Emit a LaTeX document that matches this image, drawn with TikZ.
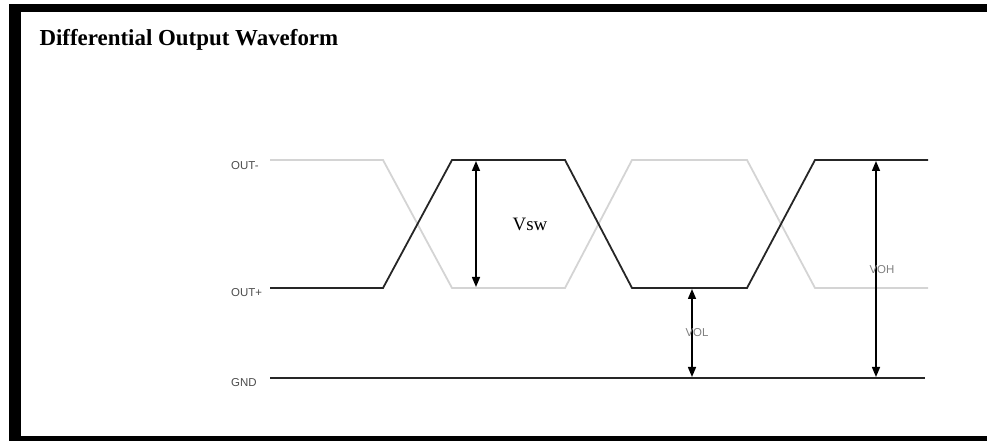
\documentclass[tikz,border=0pt]{standalone}
\usepackage{fontspec}
\setmainfont{Liberation Serif}
\newfontfamily\labelfont{Liberation Sans}
\usetikzlibrary{arrows.meta}

\begin{document}
\begin{tikzpicture}[x=1bp,y=-1bp,
	wave/.style={line width=1.8bp,black!85},
	ghost/.style={line width=1.8bp,black!17},
	dim/.style={line width=1.5bp,{Triangle[length=10bp,width=8bp]}-{Triangle[length=10bp,width=8bp]}},
	sig/.style={font=\labelfont\fontsize{11.5}{13}\selectfont,text=black!70,inner sep=0pt,anchor=west},
	volt/.style={font=\labelfont\fontsize{11.5}{13}\selectfont,text=black!50,inner sep=0pt}]
	
	\useasboundingbox (0,0) rectangle (987,441);
	\fill (9,4) rectangle (987,12);
	\fill (9,4) rectangle (21,441);
	\fill (9,436) rectangle (987,441);
	
	\node[anchor=base west,font=\bfseries\fontsize{23}{27}\selectfont] (title) at (36,46) {Differential Output Waveform};
	
	% levels and edge times
	\coordinate (hi) at (0,160);
	\coordinate (lo) at (0,288);
	\coordinate (gnd) at (0,378);
	\foreach \x [count=\i] in {270,383,452,565,632,747,815,928}
		\coordinate (t\i) at (\x,0);
	
	\node[sig] (outm) at (231,166) {OUT-};
	\node[sig] (outp) at (231,293) {OUT+};
	\node[sig] (gndl) at (231,383) {GND};
	
	% OUT- (grey) and OUT+ (black)
	\draw[ghost] (t1|-hi) -- (t2|-hi) -- (t3|-lo) -- (t4|-lo) -- (t5|-hi) -- (t6|-hi) -- (t7|-lo) -- (t8|-lo);
	\draw[wave] (t1|-lo) -- (t2|-lo) -- (t3|-hi) -- (t4|-hi) -- (t5|-lo) -- (t6|-lo) -- (t7|-hi) -- (t8|-hi);
	\draw[wave] (t1|-gnd) -- (925,378);
	
	% swings
	\coordinate (sw) at (476,0);
	\coordinate (ol) at (692,0);
	\coordinate (oh) at (876,0);
	\draw[dim,shorten <=1bp,shorten >=1bp] (sw|-hi) -- (sw|-lo);
	\draw[dim,shorten <=1bp,shorten >=1bp] (ol|-lo) -- (ol|-gnd);
	\draw[dim,shorten <=1bp,shorten >=1bp] (oh|-hi) -- (oh|-gnd);
	
	\node[font=\fontsize{19}{22}\selectfont] (vsw) at (530,224) {Vsw};
	\node[volt] (vol) at (697,333) {VOL};
	\node[volt] (voh) at (882,270) {VOH};
	
\end{tikzpicture}
\end{document}
